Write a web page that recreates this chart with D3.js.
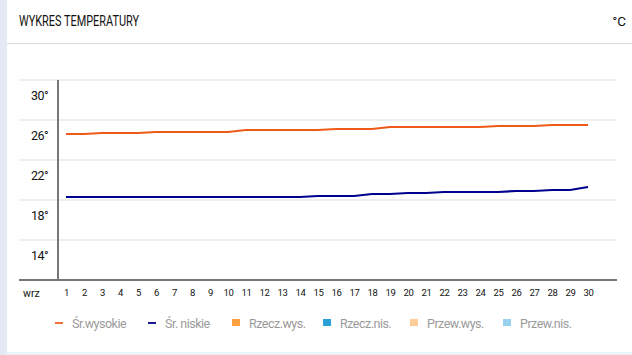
<!DOCTYPE html>
<html><head><meta charset="utf-8">
<script src="https://cdn.jsdelivr.net/npm/d3@7"></script>
<style>
html,body{margin:0;padding:0;background:#fff;}
svg{display:block;font-family:Roboto, "Noto Sans", sans-serif;}
</style></head>
<body>
<svg id="chart" width="632" height="355"></svg>
<script>
const title = "WYKRES TEMPERATURY";
const unit = "°C";
const monthLabel = "wrz";
const days = d3.range(1, 31);
const avgHigh = [26.1,26.1,26.2,26.2,26.2,26.3,26.3,26.3,26.3,26.3,26.5,26.5,26.5,26.5,26.5,26.6,26.6,26.6,26.8,26.8,26.8,26.8,26.8,26.8,26.9,26.9,26.9,27.0,27.0,27.0];
const avgLow  = [19.8,19.8,19.8,19.8,19.8,19.8,19.8,19.8,19.8,19.8,19.8,19.8,19.8,19.8,19.9,19.9,19.9,20.1,20.1,20.2,20.2,20.3,20.3,20.3,20.3,20.4,20.4,20.5,20.5,20.8];
const yTicks = [30, 26, 22, 18, 14];
const legendNames = ["Śr.wysokie", "Śr. niskie", "Rzecz.wys.", "Rzecz.nis.", "Przew.wys.", "Przew.nis."];
const legendColors = ["#f2713a", "#1a1a9a", "#ffa040", "#2b9fd8", "#ffcc99", "#99d2f0"];
const legendTypes = ["line", "line", "rect", "rect", "rect", "rect"];

const svg = d3.select("#chart");

// page decorations
svg.append("rect").attr("x",0).attr("y",0).attr("width",7).attr("height",355).attr("fill","#e4eaf3");
svg.append("rect").attr("x",7).attr("y",352).attr("width",625).attr("height",3).attr("fill","#eef1f7");
svg.append("line").attr("x1",7).attr("x2",632).attr("y1",43.5).attr("y2",43.5).attr("stroke","#dcdcdc");

svg.append("text").attr("x",19).attr("y",25.5).attr("font-size",14.5).attr("fill","#111")
  .attr("textLength",120).attr("lengthAdjust","spacingAndGlyphs").text(title);
svg.append("text").attr("x",626).attr("y",25.5).attr("font-size",13.5).attr("fill","#111")
  .attr("text-anchor","end").text(unit);

const x = d3.scaleLinear().domain([1, 30]).range([66, 588]);
const y = d3.scaleLinear().domain([11.5, 31.5]).range([280, 80]);

const plotLeft = 19, plotRight = 617;

// gridlines (band boundaries above each label)
const g = svg.append("g");
g.selectAll("line.grid").data(yTicks).join("line")
  .attr("class","grid")
  .attr("x1",plotLeft).attr("x2",plotRight)
  .attr("y1",d=>y(d+1.5)).attr("y2",d=>y(d+1.5))
  .attr("stroke","#efefef").attr("stroke-width",2);

// y labels
g.selectAll("text.ylab").data(yTicks).join("text")
  .attr("class","ylab")
  .attr("x",48).attr("y",d=>y(d)+4.5)
  .attr("text-anchor","end").attr("font-size",12.5).attr("fill","#111")
  .attr("letter-spacing","-0.6")
  .text(d=>d+"°");

// y axis line
svg.append("line").attr("x1",58).attr("x2",58).attr("y1",80).attr("y2",280)
  .attr("stroke","#777").attr("stroke-width",2);

// x axis
const xAxis = d3.axisBottom(x).tickValues(days).tickSize(0).tickPadding(9).tickFormat(d3.format("d"));
const ax = svg.append("g").attr("transform","translate(0,280)").call(xAxis);
ax.select(".domain").remove();
ax.selectAll("text").attr("font-size",9.5).attr("fill","#111").attr("font-family","Roboto, sans-serif").attr("letter-spacing","-0.3");
svg.append("line").attr("x1",plotLeft).attr("x2",plotRight).attr("y1",280).attr("y2",280)
  .attr("stroke","#777").attr("stroke-width",2);
svg.append("text").attr("x",23).attr("y",297).attr("font-size",10.5).attr("fill","#111").text(monthLabel);

// lines
const line = d3.line().x((d,i)=>x(days[i])).y(d=>y(d));
svg.append("path").datum(avgHigh).attr("d",line).attr("fill","none").attr("stroke","#ef5a1b").attr("stroke-width",2.2);
svg.append("path").datum(avgLow).attr("d",line).attr("fill","none").attr("stroke","#00008f").attr("stroke-width",2.2);

// legend
const legendX = [55, 148, 232, 323, 410, 503];
const lg = svg.append("g");
legendNames.forEach((name,i)=>{
  const gx = legendX[i];
  if (legendTypes[i]==="line") {
    lg.append("line").attr("x1",gx).attr("x2",gx+8).attr("y1",323).attr("y2",323)
      .attr("stroke",legendColors[i]).attr("stroke-width",2);
  } else {
    lg.append("rect").attr("x",gx).attr("y",319).attr("width",8).attr("height",7).attr("fill",legendColors[i]);
  }
  lg.append("text").attr("x",gx+17).attr("y",327.5).attr("font-size",12.5).attr("fill","#9a9a9a")
    .attr("letter-spacing","-0.5").text(name);
});
</script>
</body></html>
